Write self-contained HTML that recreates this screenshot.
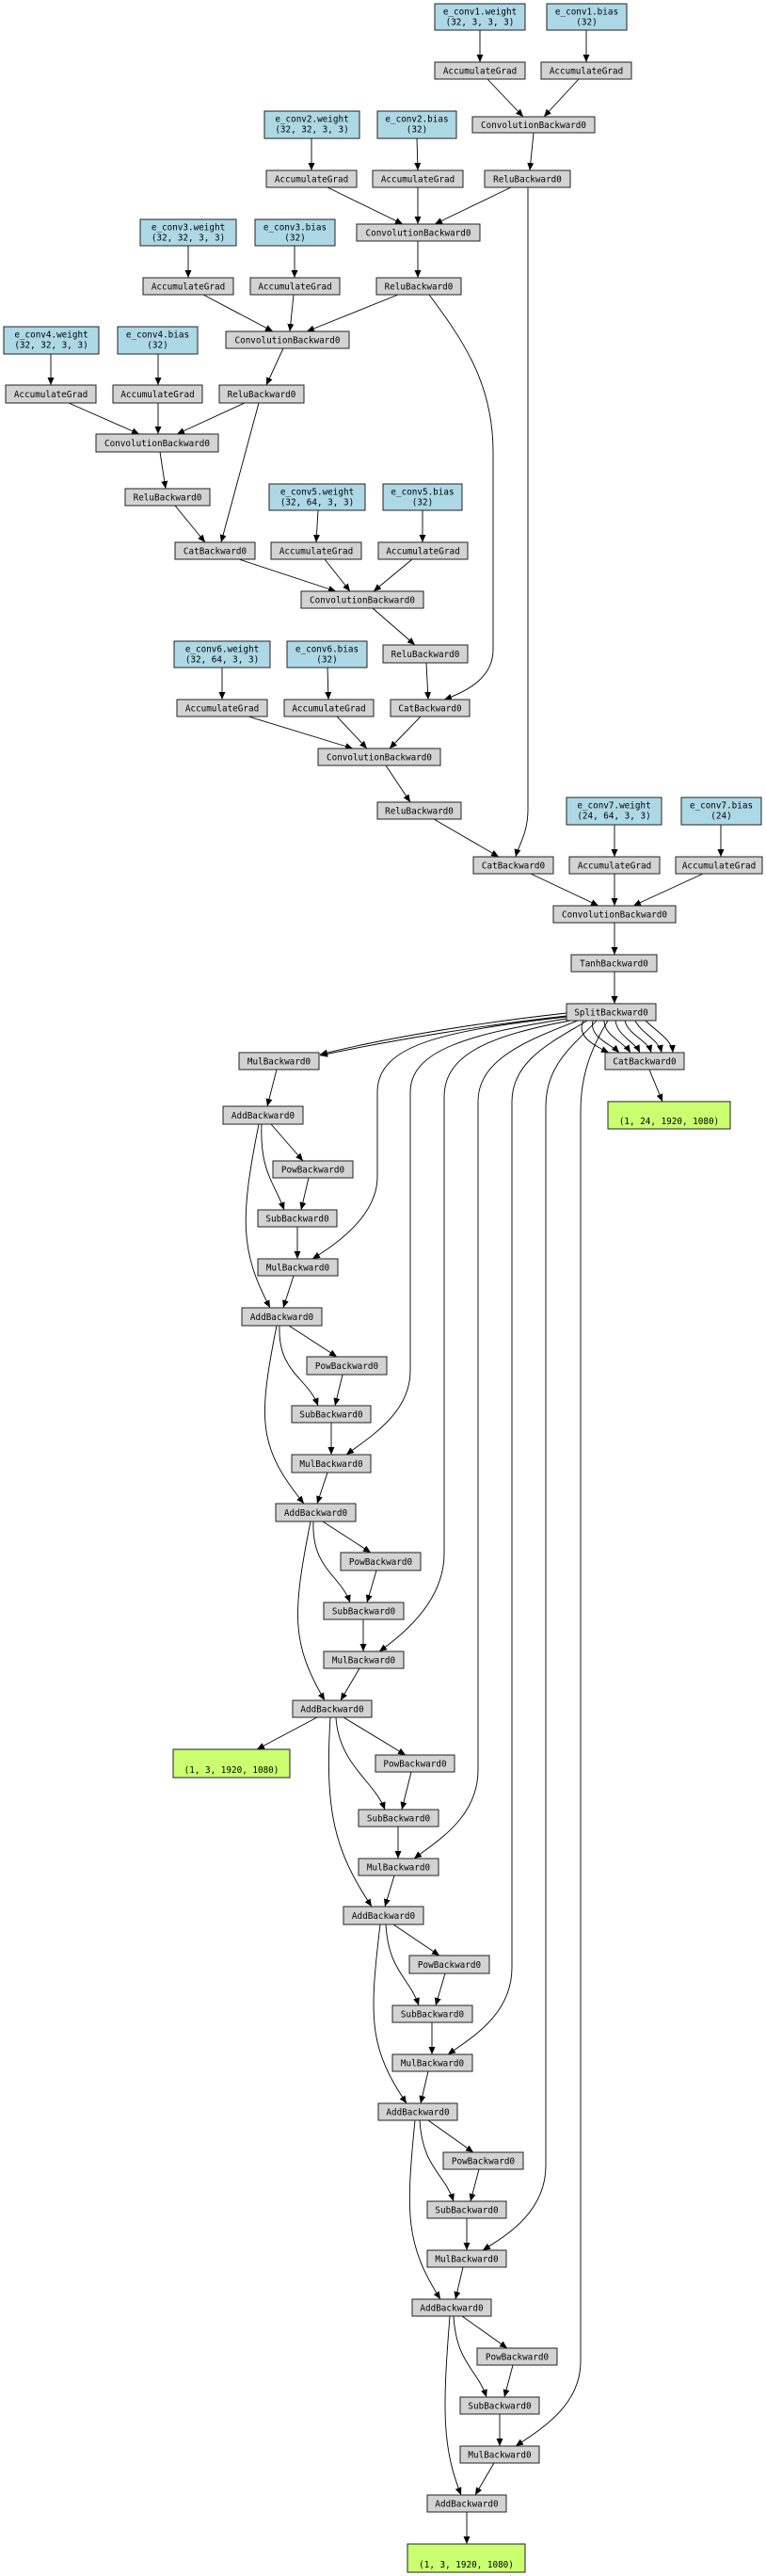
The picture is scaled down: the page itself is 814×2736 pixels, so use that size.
<!DOCTYPE html>
<html><head><meta charset="utf-8"><style>
html,body{margin:0;padding:0;background:#fff}
svg{display:block}
text{font-family:"DejaVu Sans Mono","Liberation Mono",monospace;font-size:9.3px;fill:#000;text-anchor:middle}
.g{fill:#d3d3d3;stroke:#222;stroke-width:1}
.p{fill:#add8e6;stroke:#222;stroke-width:1}
.o{fill:#caff70;stroke:#222;stroke-width:1}
path.e,line.e{fill:none;stroke:#000;stroke-width:0.9;marker-end:url(#a)}
</style></head><body>
<svg width="814" height="2736" viewBox="0 0 814 2736" xmlns="http://www.w3.org/2000/svg">
<defs><marker id="a" markerUnits="userSpaceOnUse" markerWidth="9" markerHeight="8" refX="8" refY="3.5" orient="auto"><path d="M0,0 L8,3.5 L0,7 z" fill="#000"/></marker></defs>

<!-- edges top -->
<line class="e" x1="510" y1="32" x2="510" y2="66"/>
<line class="e" x1="623" y1="32" x2="623" y2="66"/>
<line class="e" x1="518" y1="84" x2="556" y2="124"/>
<line class="e" x1="615" y1="84" x2="578" y2="124"/>
<line class="e" x1="567" y1="141" x2="563" y2="181"/>
<line class="e" x1="331" y1="147" x2="331" y2="181"/>
<line class="e" x1="443" y1="147" x2="444" y2="181"/>
<line class="e" x1="348" y1="199" x2="428" y2="238"/>
<line class="e" x1="444" y1="199" x2="444" y2="238"/>
<line class="e" x1="543" y1="199" x2="462" y2="238"/>
<path class="e" d="M561,199 L561,860 C561,885 551,898 548,910"/>
<line class="e" x1="200" y1="261" x2="200" y2="295"/>
<line class="e" x1="313" y1="261" x2="313" y2="295"/>
<line class="e" x1="444" y1="256" x2="444" y2="295"/>
<line class="e" x1="216" y1="313" x2="290" y2="352"/>
<line class="e" x1="312" y1="313" x2="308" y2="352"/>
<line class="e" x1="423" y1="313" x2="326" y2="352"/>
<path class="e" d="M456,313 C495,365 524,410 524,480 L524,690 C524,718 500,733 472,743"/>
<line class="e" x1="54" y1="376" x2="54" y2="409"/>
<line class="e" x1="168" y1="376" x2="168" y2="409"/>
<line class="e" x1="301" y1="370" x2="283" y2="409"/>
<line class="e" x1="73" y1="428" x2="148" y2="461"/>
<line class="e" x1="168" y1="428" x2="168" y2="461"/>
<line class="e" x1="260" y1="428" x2="188" y2="461"/>
<line class="e" x1="275" y1="428" x2="235" y2="576"/>
<line class="e" x1="170" y1="480" x2="176" y2="519"/>
<line class="e" x1="186" y1="537" x2="218" y2="576"/>
<line class="e" x1="338" y1="542" x2="336" y2="576"/>
<line class="e" x1="449" y1="542" x2="449" y2="576"/>
<line class="e" x1="254" y1="594" x2="357" y2="628"/>
<line class="e" x1="345" y1="594" x2="372" y2="628"/>
<line class="e" x1="438" y1="594" x2="397" y2="628"/>
<line class="e" x1="396" y1="646" x2="441" y2="685"/>
<line class="e" x1="236" y1="709" x2="236" y2="743"/>
<line class="e" x1="348" y1="709" x2="349" y2="743"/>
<line class="e" x1="453" y1="704" x2="455" y2="743"/>
<line class="e" x1="264" y1="761" x2="375" y2="795"/>
<line class="e" x1="358" y1="761" x2="390" y2="795"/>
<line class="e" x1="447" y1="761" x2="414" y2="795"/>
<line class="e" x1="410" y1="813" x2="436" y2="852"/>
<line class="e" x1="461" y1="870" x2="530" y2="910"/>
<line class="e" x1="653" y1="876" x2="653" y2="910"/>
<line class="e" x1="766" y1="876" x2="766" y2="910"/>
<line class="e" x1="564" y1="928" x2="636" y2="962"/>
<line class="e" x1="653" y1="928" x2="653" y2="962"/>
<line class="e" x1="747" y1="928" x2="673" y2="962"/>
<line class="e" x1="653" y1="980" x2="653" y2="1014"/>
<line class="e" x1="653" y1="1032" x2="653" y2="1066"/>

<!-- split edges -->
<path class="e" d="M602,1076 C520,1085 420,1100 340,1120"/>
<path class="e" d="M602,1079 C520,1088 420,1104 340,1121"/>
<path class="e" d="M620,1084 C612,1100 630,1110 647,1118"/>
<path class="e" d="M630,1084 C626,1102 648,1108 658,1118"/>
<path class="e" d="M642,1084 C642,1100 662,1106 670,1118"/>
<path class="e" d="M654,1084 C656,1100 674,1106 680,1118"/>
<path class="e" d="M664,1084 C668,1100 688,1104 692,1118"/>
<path class="e" d="M675,1084 C682,1098 700,1104 703,1118"/>
<path class="e" d="M686,1084 C698,1096 714,1104 715,1118"/>
<path class="e" d="M602,1080 C470,1095 401,1110 401,1160 L401,1250 C401,1290 360,1320 332,1337"/>
<path class="e" d="M602,1082 C500,1098 436,1115 436,1160 L436,1456 C436,1500 395,1525 368,1545"/>
<path class="e" d="M606,1084 C520,1100 472,1120 472,1165 L472,1650 C472,1700 430,1735 403,1754"/>
<path class="e" d="M614,1084 C560,1105 508,1125 508,1170 L508,1880 C508,1930 465,1955 440,1974"/>
<path class="e" d="M624,1084 C590,1105 544,1125 544,1170 L544,2090 C544,2140 500,2165 476,2182"/>
<path class="e" d="M634,1084 C610,1110 580,1130 580,1175 L580,2300 C580,2350 537,2375 513,2390"/>
<path class="e" d="M646,1084 C630,1110 617,1140 617,1180 L617,2508 C617,2555 575,2580 548,2598"/>
<line class="e" x1="690" y1="1136" x2="704" y2="1170"/>
<line class="e" x1="294" y1="1136" x2="284" y2="1175"/>

<!-- chain edges -->
<line class="e" x1="288" y1="1194" x2="322" y2="1233"/>
<path class="e" d="M278,1194 C276,1244 291,1255 302,1285"/>
<line class="e" x1="328" y1="1251" x2="320" y2="1285"/>
<line class="e" x1="316" y1="1303" x2="316" y2="1337"/>
<line class="e" x1="312" y1="1355" x2="301" y2="1389"/>
<path class="e" d="M275,1194 C255,1294 255,1329 287,1389"/>

<line class="e" x1="307" y1="1408" x2="358" y2="1441"/>
<path class="e" d="M297,1408 C295,1458 327,1463 338,1493"/>
<line class="e" x1="364" y1="1460" x2="356" y2="1493"/>
<line class="e" x1="352" y1="1511" x2="352" y2="1545"/>
<line class="e" x1="348" y1="1564" x2="337" y2="1597"/>
<path class="e" d="M294,1408 C274,1508 274,1537 323,1597"/>

<line class="e" x1="343" y1="1616" x2="394" y2="1649"/>
<path class="e" d="M333,1616 C331,1666 361,1672 372,1702"/>
<line class="e" x1="400" y1="1668" x2="390" y2="1702"/>
<line class="e" x1="386" y1="1720" x2="386" y2="1754"/>
<line class="e" x1="382" y1="1772" x2="362" y2="1806"/>
<path class="e" d="M330,1616 C310,1716 310,1746 345,1806"/>

<line class="e" x1="365" y1="1824" x2="431" y2="1864"/>
<path class="e" d="M357,1824 C360,1874 398,1892 409,1922"/>
<line class="e" x1="437" y1="1882" x2="427" y2="1922"/>
<line class="e" x1="423" y1="1940" x2="423" y2="1974"/>
<line class="e" x1="419" y1="1992" x2="409" y2="2025"/>
<path class="e" d="M351,1824 C345,1924 355,1965 395,2025"/>
<line class="e" x1="337" y1="1824" x2="273" y2="1858"/>

<line class="e" x1="418" y1="2044" x2="467" y2="2077"/>
<path class="e" d="M410,2044 C413,2094 435,2100 445,2130"/>
<line class="e" x1="473" y1="2096" x2="463" y2="2130"/>
<line class="e" x1="459" y1="2148" x2="459" y2="2182"/>
<line class="e" x1="455" y1="2200" x2="447" y2="2234"/>
<path class="e" d="M404,2044 C392,2144 392,2175 432,2234"/>

<line class="e" x1="455" y1="2252" x2="503" y2="2286"/>
<path class="e" d="M446,2252 C449,2302 472,2308 482,2338"/>
<line class="e" x1="509" y1="2304" x2="500" y2="2338"/>
<line class="e" x1="496" y1="2356" x2="496" y2="2390"/>
<line class="e" x1="492" y1="2408" x2="484" y2="2442"/>
<path class="e" d="M441,2252 C431,2352 431,2384 468,2442"/>

<line class="e" x1="491" y1="2460" x2="539" y2="2494"/>
<path class="e" d="M482,2460 C485,2510 507,2516 517,2546"/>
<line class="e" x1="545" y1="2512" x2="536" y2="2546"/>
<line class="e" x1="531" y1="2564" x2="531" y2="2598"/>
<line class="e" x1="525" y1="2616" x2="505" y2="2650"/>
<path class="e" d="M478,2460 C470,2560 470,2600 490,2650"/>
<line class="e" x1="496" y1="2668" x2="496" y2="2702"/>

<!-- param nodes -->
<rect class="p" x="462" y="4" width="96" height="28"/><text x="510" y="15.5">e_conv1.weight</text><text x="510" y="26.5">(32, 3, 3, 3)</text>
<rect class="p" x="581" y="4" width="85" height="28"/><text x="623.5" y="15.5">e_conv1.bias</text><text x="623.5" y="26.5">(32)</text>
<rect class="p" x="281" y="118" width="101" height="29"/><text x="331.5" y="129.5">e_conv2.weight</text><text x="331.5" y="140.5">(32, 32, 3, 3)</text>
<rect class="p" x="401" y="118" width="84" height="29"/><text x="443" y="129.5">e_conv2.bias</text><text x="443" y="140.5">(32)</text>
<rect class="p" x="149" y="233" width="102" height="28"/><text x="200" y="244.5">e_conv3.weight</text><text x="200" y="255.5">(32, 32, 3, 3)</text>
<rect class="p" x="271" y="233" width="85" height="28"/><text x="313.5" y="244.5">e_conv3.bias</text><text x="313.5" y="255.5">(32)</text>
<rect class="p" x="4" y="347" width="101" height="29"/><text x="54.5" y="358.5">e_conv4.weight</text><text x="54.5" y="369.5">(32, 32, 3, 3)</text>
<rect class="p" x="125" y="347" width="85" height="29"/><text x="167.5" y="358.5">e_conv4.bias</text><text x="167.5" y="369.5">(32)</text>
<rect class="p" x="286" y="514" width="102" height="28"/><text x="337" y="525.5">e_conv5.weight</text><text x="337" y="536.5">(32, 64, 3, 3)</text>
<rect class="p" x="407" y="514" width="84" height="28"/><text x="449" y="525.5">e_conv5.bias</text><text x="449" y="536.5">(32)</text>
<rect class="p" x="185" y="681" width="102" height="28"/><text x="236" y="692.5">e_conv6.weight</text><text x="236" y="703.5">(32, 64, 3, 3)</text>
<rect class="p" x="305" y="681" width="85" height="28"/><text x="347.5" y="692.5">e_conv6.bias</text><text x="347.5" y="703.5">(32)</text>
<rect class="p" x="602" y="847" width="101" height="29"/><text x="652.5" y="858.5">e_conv7.weight</text><text x="652.5" y="869.5">(24, 64, 3, 3)</text>
<rect class="p" x="724" y="847" width="85" height="29"/><text x="766.5" y="858.5">e_conv7.bias</text><text x="766.5" y="869.5">(24)</text>

<!-- gray nodes -->
<g>
<rect class="g" x="462" y="66" width="96" height="18"/><text x="510" y="78.5">AccumulateGrad</text>
<rect class="g" x="575" y="66" width="96" height="18"/><text x="623" y="78.5">AccumulateGrad</text>
<rect class="g" x="502" y="124" width="130" height="17"/><text x="567" y="136">ConvolutionBackward0</text>
<rect class="g" x="283" y="181" width="96" height="18"/><text x="331" y="193.5">AccumulateGrad</text>
<rect class="g" x="396" y="181" width="96" height="18"/><text x="444" y="193.5">AccumulateGrad</text>
<rect class="g" x="515" y="181" width="91" height="18"/><text x="560.5" y="193.5">ReluBackward0</text>
<rect class="g" x="379" y="238" width="131" height="18"/><text x="444.5" y="250.5">ConvolutionBackward0</text>
<rect class="g" x="152" y="295" width="96" height="18"/><text x="200" y="307.5">AccumulateGrad</text>
<rect class="g" x="266" y="295" width="95" height="18"/><text x="313.5" y="307.5">AccumulateGrad</text>
<rect class="g" x="400" y="295" width="90" height="18"/><text x="445" y="307.5">ReluBackward0</text>
<rect class="g" x="240" y="352" width="131" height="18"/><text x="305.5" y="364.5">ConvolutionBackward0</text>
<rect class="g" x="6" y="409" width="96" height="19"/><text x="54" y="422">AccumulateGrad</text>
<rect class="g" x="120" y="409" width="95" height="19"/><text x="167.5" y="422">AccumulateGrad</text>
<rect class="g" x="233" y="409" width="90" height="19"/><text x="278" y="422">ReluBackward0</text>
<rect class="g" x="102" y="461" width="130" height="19"/><text x="167" y="474">ConvolutionBackward0</text>
<rect class="g" x="133" y="519" width="90" height="18"/><text x="178" y="531.5">ReluBackward0</text>
<rect class="g" x="186" y="576" width="85" height="18"/><text x="228.5" y="588.5">CatBackward0</text>
<rect class="g" x="288" y="576" width="96" height="18"/><text x="336" y="588.5">AccumulateGrad</text>
<rect class="g" x="402" y="576" width="95" height="18"/><text x="449.5" y="588.5">AccumulateGrad</text>
<rect class="g" x="320" y="628" width="130" height="18"/><text x="385" y="640.5">ConvolutionBackward0</text>
<rect class="g" x="407" y="685" width="90" height="19"/><text x="452" y="698">ReluBackward0</text>
<rect class="g" x="188" y="743" width="96" height="18"/><text x="236" y="755.5">AccumulateGrad</text>
<rect class="g" x="302" y="743" width="95" height="18"/><text x="349.5" y="755.5">AccumulateGrad</text>
<rect class="g" x="415" y="743" width="84" height="18"/><text x="457" y="755.5">CatBackward0</text>
<rect class="g" x="338" y="795" width="130" height="18"/><text x="403" y="807.5">ConvolutionBackward0</text>
<rect class="g" x="401" y="852" width="89" height="18"/><text x="445.5" y="864.5">ReluBackward0</text>
<rect class="g" x="503" y="910" width="85" height="18"/><text x="545.5" y="922.5">CatBackward0</text>
<rect class="g" x="605" y="910" width="96" height="18"/><text x="653" y="922.5">AccumulateGrad</text>
<rect class="g" x="718" y="910" width="92" height="18"/><text x="764" y="922.5">AccumulateGrad</text>
<rect class="g" x="588" y="962" width="130" height="18"/><text x="653" y="974.5">ConvolutionBackward0</text>
<rect class="g" x="607" y="1014" width="91" height="18"/><text x="652.5" y="1026.5">TanhBackward0</text>
<rect class="g" x="602" y="1066" width="95" height="18"/><text x="649.5" y="1078.5">SplitBackward0</text>
<rect class="g" x="254" y="1118" width="85" height="18"/><text x="296.5" y="1130.5">MulBackward0</text>
<rect class="g" x="643" y="1118" width="84" height="18"/><text x="685" y="1130.5">CatBackward0</text>

<rect class="g" x="237" y="1175" width="85" height="19"/><text x="279.5" y="1188">AddBackward0</text>
<rect class="g" x="290" y="1233" width="85" height="18"/><text x="332.5" y="1245.5">PowBackward0</text>
<rect class="g" x="274" y="1285" width="84" height="18"/><text x="316" y="1297.5">SubBackward0</text>
<rect class="g" x="274" y="1337" width="85" height="18"/><text x="316.5" y="1349.5">MulBackward0</text>
<rect class="g" x="257" y="1389" width="85" height="19"/><text x="299.5" y="1402">AddBackward0</text>
<rect class="g" x="326" y="1441" width="85" height="19"/><text x="368.5" y="1454">PowBackward0</text>
<rect class="g" x="310" y="1493" width="84" height="18"/><text x="352" y="1505.5">SubBackward0</text>
<rect class="g" x="310" y="1545" width="84" height="19"/><text x="352" y="1558">MulBackward0</text>
<rect class="g" x="293" y="1597" width="85" height="19"/><text x="335.5" y="1610">AddBackward0</text>
<rect class="g" x="362" y="1649" width="85" height="19"/><text x="404.5" y="1662">PowBackward0</text>
<rect class="g" x="344" y="1702" width="85" height="18"/><text x="386.5" y="1714.5">SubBackward0</text>
<rect class="g" x="344" y="1754" width="85" height="18"/><text x="386.5" y="1766.5">MulBackward0</text>
<rect class="g" x="311" y="1806" width="84" height="18"/><text x="353" y="1818.5">AddBackward0</text>
<rect class="g" x="399" y="1864" width="84" height="18"/><text x="441" y="1876.5">PowBackward0</text>
<rect class="g" x="381" y="1922" width="85" height="18"/><text x="423.5" y="1934.5">SubBackward0</text>
<rect class="g" x="381" y="1974" width="85" height="18"/><text x="423.5" y="1986.5">MulBackward0</text>
<rect class="g" x="365" y="2025" width="85" height="19"/><text x="407.5" y="2038">AddBackward0</text>
<rect class="g" x="435" y="2077" width="85" height="19"/><text x="477.5" y="2090">PowBackward0</text>
<rect class="g" x="417" y="2130" width="85" height="18"/><text x="459.5" y="2142.5">SubBackward0</text>
<rect class="g" x="417" y="2182" width="85" height="18"/><text x="459.5" y="2194.5">MulBackward0</text>
<rect class="g" x="402" y="2234" width="84" height="18"/><text x="444" y="2246.5">AddBackward0</text>
<rect class="g" x="471" y="2286" width="85" height="18"/><text x="513.5" y="2298.5">PowBackward0</text>
<rect class="g" x="454" y="2338" width="84" height="18"/><text x="496" y="2350.5">SubBackward0</text>
<rect class="g" x="454" y="2390" width="84" height="18"/><text x="496" y="2402.5">MulBackward0</text>
<rect class="g" x="438" y="2442" width="84" height="18"/><text x="480" y="2454.5">AddBackward0</text>
<rect class="g" x="507" y="2494" width="85" height="18"/><text x="549.5" y="2506.5">PowBackward0</text>
<rect class="g" x="489" y="2546" width="84" height="18"/><text x="531" y="2558.5">SubBackward0</text>
<rect class="g" x="489" y="2598" width="84" height="18"/><text x="531" y="2610.5">MulBackward0</text>
<rect class="g" x="454" y="2650" width="84" height="18"/><text x="496" y="2662.5">AddBackward0</text>
</g>

<!-- outputs -->
<rect class="o" x="646" y="1170" width="130" height="29"/><text x="711" y="1194">(1, 24, 1920, 1080)</text>
<rect class="o" x="184" y="1858" width="124" height="30"/><text x="246" y="1883">(1, 3, 1920, 1080)</text>
<rect class="o" x="433" y="2702" width="125" height="30"/><text x="495.5" y="2727">(1, 3, 1920, 1080)</text>
</svg>
</body></html>
